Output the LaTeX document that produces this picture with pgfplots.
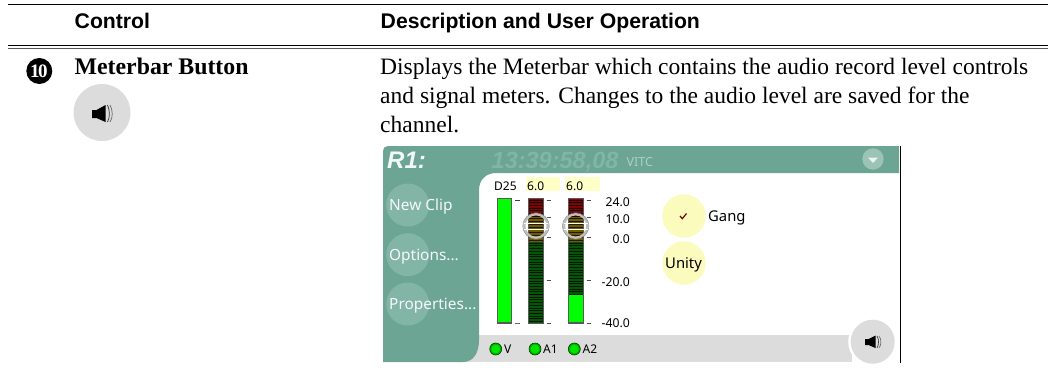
\documentclass[border=0pt]{standalone}
\usepackage{fontspec}
\setmainfont{Liberation Serif}
\newfontfamily\arial{Liberation Sans}
\newfontfamily\ui{Noto Sans}
\usepackage{pgfplots}
\pgfplotsset{compat=1.18}
\definecolor{tealbg}{HTML}{6CA593}
\definecolor{tealbtn}{HTML}{82B5A5}
\definecolor{greybg}{HTML}{DCDCDC}
\definecolor{yel}{HTML}{FBFBBE}
\definecolor{yelbox}{HTML}{FFFFC8}
\definecolor{mred}{HTML}{7A0505}
\definecolor{myel}{HTML}{6E5A05}
\definecolor{mgreen}{HTML}{055505}
\newcommand{\rect}[5]{\addplot[draw=none,fill=#5,forget plot] coordinates {(#1,#2)(#3,#2)(#3,#4)(#1,#4)} -- cycle;}
\newcommand{\fs}[1]{\fontsize{#1}{#1}\selectfont}
\newcommand{\txt}[4]{\node[anchor=base west,inner sep=0pt,#4] at (axis cs:#1,#2) {#3};}
\begin{document}
\begin{tikzpicture}
\begin{axis}[
  scale only axis,width=1048pt,height=378pt,
  xmin=0,xmax=1048,ymin=0,ymax=378,y dir=reverse,
  hide axis,clip=true,
]
\rect{0}{0}{1048}{378}{white}
% table rules
\addplot[black,line width=1pt,forget plot] coordinates {(8,4.5)(1048,4.5)};
\addplot[black,line width=1pt,forget plot] coordinates {(8,45.3)(1048,45.3)};
\addplot[black!65,line width=1.4pt,forget plot] coordinates {(8,48.7)(1048,48.7)};
% header
\txt{74.5}{28.8}{\arial\bfseries\fs{21.2}Control}{}
\txt{380.5}{28.8}{\arial\bfseries\fs{21.2}Description and User Operation}{}
% left cell
\fill[black] (axis cs:39.3,71) circle[radius=13];
\node[white,inner sep=0pt] at (axis cs:39.3,71.5) {\bfseries\fs{19}\kern-1pt 1\kern-1.5pt 0};
\txt{74.5}{74}{\bfseries\fs{23.8}Meterbar Button}{}
\fill[greybg] (axis cs:102,112.5) circle[radius=28.5];
\fill[black] (axis cs:92,110) -- (axis cs:96.5,110) -- (axis cs:105.5,105) -- (axis cs:105.5,122) -- (axis cs:96.5,118) -- (axis cs:92,118) -- cycle;
\draw[black!80,line width=.7pt] (axis cs:107.5,105) .. controls (axis cs:110,110) and (axis cs:110,118) .. (axis cs:107.5,122);
\draw[black!60,line width=.7pt] (axis cs:110,105) .. controls (axis cs:113,110) and (axis cs:113,118) .. (axis cs:110,122);
% description
\txt{380}{74}{\fs{23.5}Displays the Meterbar which contains the audio record level controls}{}
\txt{380}{103}{\fs{23.5}and signal meters. Changes to the audio level are saved for the}{}
\txt{380}{132}{\fs{23.5}channel.}{}
% screenshot: grey strip, teal frame
\rect{460}{335}{852}{362}{greybg}
\fill[tealbg] (axis cs:383,151) .. controls (axis cs:383,148) and (axis cs:385,146) .. (axis cs:388,146)
  -- (axis cs:899,146) -- (axis cs:899,173) -- (axis cs:496,173)
  .. controls (axis cs:486,173) and (axis cs:479,180) .. (axis cs:479,190)
  -- (axis cs:479,340) .. controls (axis cs:479,352) and (axis cs:474,362) .. (axis cs:463,362)
  -- (axis cs:383,362) -- cycle;
\addplot[black,line width=1.5pt,forget plot] coordinates {(900.5,146)(900.5,363)};
% title
\txt{387}{168}{\arial\bfseries\itshape\fs{24}\color{white!92!tealbg}R1:}{}
\txt{491.5}{168}{\arial\bfseries\itshape\fs{23.5}\color{tealbtn}13:39:58,08}{}
\txt{626.5}{166.5}{\ui\fs{12.5}\color{white!45!tealbg}VITC}{}
\fill[white!20!tealbtn] (axis cs:873,159) circle[radius=10.7];
\addplot[draw=none,fill=white!85!tealbtn,forget plot] coordinates {(868,157.5)(878,157.5)(873,163)} -- cycle;
% left buttons
\fill[tealbtn] (axis cs:407.7,205) circle[radius=21.5];
\fill[tealbtn] (axis cs:407.7,254.7) circle[radius=21.5];
\fill[tealbtn] (axis cs:407.7,304) circle[radius=21.5];
\txt{389}{210.5}{\ui\fs{15.4}\color{white!93!tealbg}New Clip}{}
\txt{389}{260}{\ui\fs{15.4}\color{white!93!tealbg}Options...}{}
\txt{389}{309}{\ui\fs{15.4}\color{white!93!tealbg}Properties...}{}
% meter header
\rect{526}{177}{560}{191}{yelbox}
\rect{565}{177}{600}{191}{yelbox}
\txt{494}{190}{\ui\fs{12}D25}{}
\txt{527}{190}{\ui\fs{12}6.0}{}
\txt{566}{190}{\ui\fs{12}6.0}{}
% D25 bar
\rect{496.5}{198}{512}{323.5}{black!65}
\rect{497.7}{199}{510.8}{322.3}{green}
% A1
\rect{528}{198}{544}{323.5}{black!65}
\rect{529}{198.5}{543}{217}{mred}
\rect{529}{217}{543}{242}{myel}
\rect{529}{242}{543}{323}{mgreen}
% A2
\rect{567.5}{198}{583.5}{323.5}{black!65}
\rect{568.5}{198.5}{582.5}{217}{mred}
\rect{568.5}{217}{582.5}{242}{myel}
\rect{568.5}{242}{582.5}{295}{mgreen}
% stripes
\pgfplotsinvokeforeach{200,202.7,...,294}{
  \draw[black,line width=.9pt,opacity=.7] (axis cs:529,#1) -- (axis cs:543,#1);
  \draw[black,line width=.9pt,opacity=.7] (axis cs:568.5,#1) -- (axis cs:582.5,#1);
}
\pgfplotsinvokeforeach{294.5,297.2,...,322}{
  \draw[black,line width=.9pt,opacity=.7] (axis cs:529,#1) -- (axis cs:543,#1);
}
\rect{568.5}{295}{582.5}{322.3}{green}
% ticks
\addplot[black!75,line width=1pt,forget plot] coordinates {(515,200)(519.5,200)};
\addplot[black!60,line width=1pt,forget plot] coordinates {(515,323)(519.5,323)};
\pgfplotsinvokeforeach{200,217,237,280,323}{
  \addplot[black!70,line width=1pt,forget plot] coordinates {(546.5,#1)(551,#1)};
  \addplot[black!70,line width=1pt,forget plot] coordinates {(586.5,#1)(591,#1)};
}
% scale labels
\node[anchor=base east,inner sep=0pt] at (axis cs:630,206) {\ui\fs{12.2}24.0};
\node[anchor=base east,inner sep=0pt] at (axis cs:630,223.5) {\ui\fs{12.2}10.0};
\node[anchor=base east,inner sep=0pt] at (axis cs:630,243.5) {\ui\fs{12.2}0.0};
\node[anchor=base east,inner sep=0pt] at (axis cs:630,286) {\ui\fs{12.2}-20.0};
\node[anchor=base east,inner sep=0pt] at (axis cs:630,327.5) {\ui\fs{12.2}-40.0};
% sliders
\pgfplotsinvokeforeach{536,575.7}{
  \draw[black!25,line width=2.4pt] (axis cs:#1,226) circle[radius=11.8];
  \draw[black!50,line width=.4pt] (axis cs:#1,226) circle[radius=13.2];
  \draw[black!25,line width=1.6pt] (axis cs:#1-12,223.5) -- (axis cs:#1+12,223.5);
  \draw[black!25,line width=1.6pt] (axis cs:#1-12,229.5) -- (axis cs:#1+12,229.5);
  \draw[white,line width=.6pt] (axis cs:#1-12,223.5) -- (axis cs:#1+12,223.5);
  \draw[white,line width=.6pt] (axis cs:#1-12,229.5) -- (axis cs:#1+12,229.5);
}
% LEDs
\pgfplotsinvokeforeach{495.7,535,574.3}{
  \fill[green!70!black] (axis cs:#1,349) circle[radius=6];
  \fill[green!90!black] (axis cs:#1,349) circle[radius=4.4];
  \draw[black!75!green,line width=.6pt] (axis cs:#1,349) circle[radius=6];
}
\txt{504}{353}{\ui\fs{12}V}{}
\txt{543}{353}{\ui\fs{12}A1}{}
\txt{582.5}{353}{\ui\fs{12}A2}{}
% Gang and Unity
\fill[yel] (axis cs:684,216) circle[radius=21.7];
\fill[yel] (axis cs:684,263) circle[radius=21.7];
\draw[black!35!red!70!black,line width=1.2pt] (axis cs:680,216) -- (axis cs:682.3,218.7) -- (axis cs:686.5,213.5);
\txt{708}{221}{\ui\fs{14.8}Gang}{}
\txt{665}{268}{\ui\fs{14.8}Unity}{}
% speaker button
\fill[white] (axis cs:872.7,341.7) circle[radius=24.5];
\fill[greybg] (axis cs:872.7,341.7) circle[radius=22];
\fill[black] (axis cs:865,339) -- (axis cs:868.5,339) -- (axis cs:875.5,335.5) -- (axis cs:875.5,348) -- (axis cs:868.5,345) -- (axis cs:865,345) -- cycle;
\draw[black!80,line width=.6pt] (axis cs:877,336) .. controls (axis cs:879,339) and (axis cs:879,345) .. (axis cs:877,348);
\draw[black!60,line width=.6pt] (axis cs:879,336) .. controls (axis cs:881.5,339) and (axis cs:881.5,345) .. (axis cs:879,348);
\end{axis}
\end{tikzpicture}
\end{document}
